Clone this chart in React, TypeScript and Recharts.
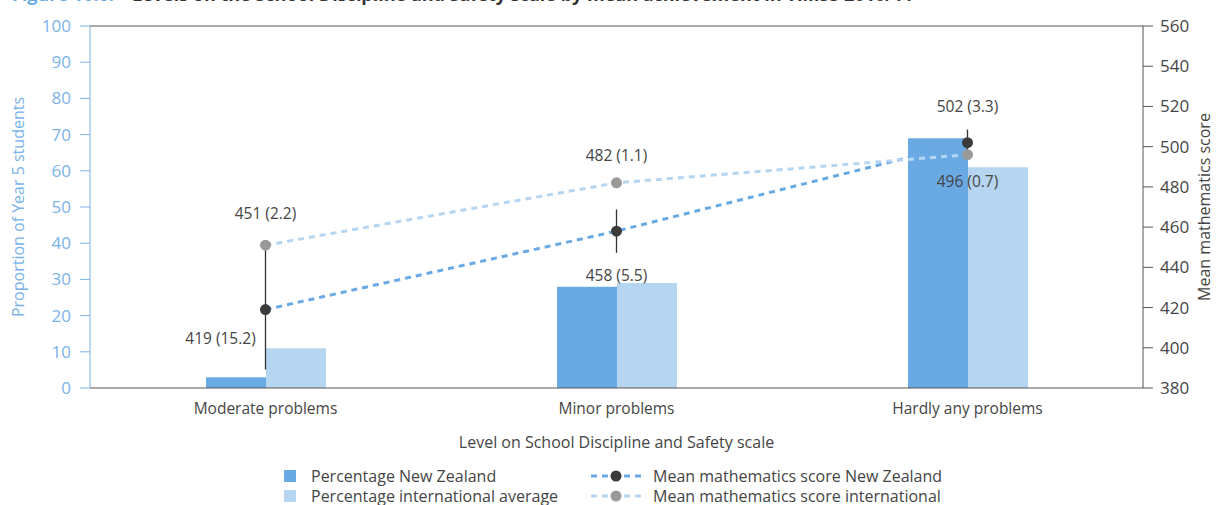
import React from 'react';
import {
  ComposedChart, Bar, Line, XAxis, YAxis, ErrorBar, LabelList, Label, ReferenceLine,
} from 'recharts';

const categories = ['Moderate problems', 'Minor problems', 'Hardly any problems'];
const pctNZ = [3, 28, 69];
const pctIntl = [11, 29, 61];
const scoreNZ = [419, 458, 502];
const seNZ = [15.2, 5.5, 3.3];
const ciNZ = [29.8, 10.8, 6.5];
const scoreIntl = [451, 482, 496];
const seIntl = [2.2, 1.1, 0.7];
const leftTicks = [0, 10, 20, 30, 40, 50, 60, 70, 80, 90, 100];
const rightTicks = [380, 400, 420, 440, 460, 480, 500, 520, 540, 560];

// label placement around each point (dx, dy from the dot centre)
const nzLabelPos = [[-45, 28], [0, 44], [0, -37]];
const intlLabelPos = [[0, -32], [0, -28], [0, 26]];

const FONT = '"Open Sans", sans-serif';
const TEXT = '#454545';
const BLUE = '#6aaae4';
const LIGHT = '#b6d5f1';
const AXIS_BLUE = '#7ab3e8';

const data = categories.map((name, i) => ({
  name,
  pctNZ: pctNZ[i],
  pctIntl: pctIntl[i],
  scoreNZ: scoreNZ[i],
  ciNZ: ciNZ[i],
  scoreIntl: scoreIntl[i],
  labelNZ: `${scoreNZ[i]} (${seNZ[i].toFixed(1)})`,
  labelIntl: `${scoreIntl[i]} (${seIntl[i].toFixed(1)})`,
}));

const makeLabel = (pos: number[][]) => (props: any) => {
  const { x, y, index, value } = props;
  const [dx, dy] = pos[index];
  return (
    <text x={x + dx} y={y + dy} textAnchor="middle" dominantBaseline="central"
      fill={TEXT} fontSize={15.5} fontFamily={FONT}>
      {value}
    </text>
  );
};

const leftTitle = (props: any) => {
  const { x, y, height } = props.viewBox;
  const cx = x - 12;
  const cy = y + height / 2;
  return (
    <text x={cx} y={cy} transform={`rotate(-90, ${cx}, ${cy})`} textAnchor="middle"
      dominantBaseline="central" fill={AXIS_BLUE} fontSize={16} fontFamily={FONT}>
      Proportion of Year 5 students
    </text>
  );
};

const rightTitle = (props: any) => {
  const { x, y, width, height } = props.viewBox;
  const cx = x + width + 1;
  const cy = y + height / 2;
  return (
    <text x={cx} y={cy} transform={`rotate(-90, ${cx}, ${cy})`} textAnchor="middle"
      dominantBaseline="central" fill={TEXT} fontSize={16} fontFamily={FONT}>
      Mean mathematics score
    </text>
  );
};

const LegendItem = ({ kind, color, dot, text }: { kind: 'box' | 'line'; color: string; dot?: string; text: string }) => (
  <div style={{ display: 'flex', alignItems: 'center', height: 20 }}>
    {kind === 'box' ? (
      <div style={{ width: 12, height: 12, background: color, marginRight: 15 }} />
    ) : (
      <svg width={52} height={12} style={{ marginRight: 11 }}>
        <line x1={1} y1={6} x2={51} y2={6} stroke={color} strokeWidth={3} strokeDasharray="6 5" />
        <circle cx={26} cy={6} r={5.5} fill={dot} />
      </svg>
    )}
    <span style={{ fontSize: 16, color: TEXT, whiteSpace: 'nowrap' }}>{text}</span>
  </div>
);

export default function App() {
  return (
    <div style={{ position: 'absolute', top: 0, left: 0, width: 1216, height: 505, overflow: 'hidden', background: '#fff', fontFamily: FONT }}>
      <div style={{ position: 'absolute', top: -16, left: 12, fontSize: 18, whiteSpace: 'nowrap', lineHeight: '20px' }}>
        <span style={{ color: BLUE, fontWeight: 700 }}>Figure 10.6:</span>
        <span style={{ color: '#333', fontWeight: 700, marginLeft: 18 }}>
          Levels on the School Discipline and Safety scale by mean achievement in TIMSS 2010/11
        </span>
      </div>

      <ComposedChart width={1216} height={460} data={data} barGap={0} barSize={60}
        margin={{ top: 26, right: 13, left: 30, bottom: 0 }}>
        <XAxis dataKey="name" height={72} tickLine={false} axisLine={{ stroke: '#555' }}
          tickMargin={9} tick={{ fill: TEXT, fontSize: 15.5, fontFamily: FONT }}>
          <Label value="Level on School Discipline and Safety scale" position="insideBottom" offset={12}
            fill={TEXT} fontSize={16} fontFamily={FONT} />
        </XAxis>
        <YAxis yAxisId="left" domain={[0, 100]} ticks={leftTicks} width={60} interval={0}
          axisLine={{ stroke: AXIS_BLUE }} tickLine={{ stroke: AXIS_BLUE }} tickSize={10} tickMargin={9}
          tick={{ fill: AXIS_BLUE, fontSize: 17, fontFamily: FONT }}>
          <Label content={leftTitle} />
        </YAxis>
        <YAxis yAxisId="right" orientation="right" domain={[380, 560]} ticks={rightTicks} width={60} interval={0}
          axisLine={{ stroke: '#555' }} tickLine={{ stroke: '#555' }} tickSize={10} tickMargin={7}
          tick={{ fill: TEXT, fontSize: 17, fontFamily: FONT }}>
          <Label content={rightTitle} />
        </YAxis>
        <ReferenceLine yAxisId="left" y={100} stroke="#555" />

        <Bar yAxisId="left" dataKey="pctNZ" fill={BLUE} isAnimationActive={false} />
        <Bar yAxisId="left" dataKey="pctIntl" fill={LIGHT} isAnimationActive={false} />

        <Line yAxisId="right" dataKey="scoreNZ" stroke={BLUE} strokeWidth={3} strokeDasharray="6 5"
          dot={{ r: 5.5, fill: '#3b3b3b', stroke: 'none', strokeWidth: 0 }} activeDot={false} isAnimationActive={false}>
          <ErrorBar dataKey="ciNZ" direction="y" width={0} stroke="#333" strokeWidth={1.3} />
          <LabelList dataKey="labelNZ" content={makeLabel(nzLabelPos)} />
        </Line>
        <Line yAxisId="right" dataKey="scoreIntl" stroke={LIGHT} strokeWidth={3} strokeDasharray="6 5"
          dot={{ r: 5.5, fill: '#999', stroke: 'none', strokeWidth: 0 }} activeDot={false} isAnimationActive={false}>
          <LabelList dataKey="labelIntl" content={makeLabel(intlLabelPos)} />
        </Line>
      </ComposedChart>

      <div style={{ position: 'absolute', left: 284, top: 466 }}>
        <LegendItem kind="box" color={BLUE} text="Percentage New Zealand" />
        <LegendItem kind="box" color={LIGHT} text="Percentage international average" />
      </div>
      <div style={{ position: 'absolute', left: 590, top: 466 }}>
        <LegendItem kind="line" color={BLUE} dot="#3b3b3b" text="Mean mathematics score New Zealand" />
        <LegendItem kind="line" color={LIGHT} dot="#999" text="Mean mathematics score international" />
      </div>
    </div>
  );
}
